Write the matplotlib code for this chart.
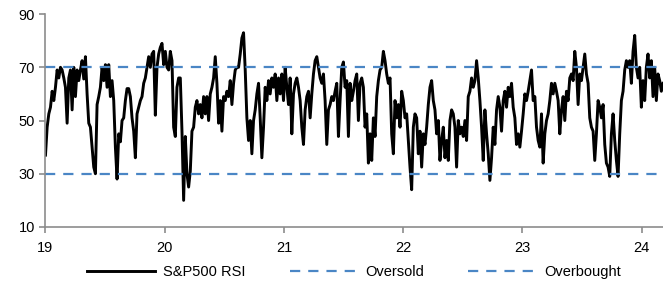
import numpy as np
import matplotlib
matplotlib.use("Agg")
import matplotlib.pyplot as plt

plt.rcParams['font.family'] = ['Liberation Sans', 'DejaVu Sans']

# S&P500 RSI, roughly every 5 days, Jan 2019 .. early Mar 2024
rsi_2019 = [37, 47.5, 52.5, 55, 61, 57.5, 62.5, 69, 66, 70, 69, 66, 62.5, 49, 66, 69, 54, 70, 59, 69,
            65, 69, 72.5, 65.6, 74, 60, 49, 47.5, 40, 32.5, 30, 56, 59, 62.5, 70, 65, 71, 62.5, 71, 59,
            65, 57.5, 40, 28, 45, 42, 50, 51, 57.5, 62, 62, 59, 51, 46, 36, 52.5, 55, 57.5, 59, 64,
            66, 70, 74, 70, 75, 76, 52, 70, 75, 77.5, 79, 71, 76, 70, 69, 76, 72.5, 47.5, 44, 62.5,
            66, 66, 46, 20, 44, 30, 25]
rsi_2020 = [31, 46, 47.5, 55, 57.5, 52.5, 56, 51, 59, 52.5, 59, 50, 60, 62.5, 66, 74, 64, 49, 57.5, 46,
            59, 57.5, 61, 59, 65, 56, 64, 69, 70, 70, 75, 81, 83, 69, 51, 42.5, 50, 37.5, 50, 54,
            60, 64, 51, 36, 47.5, 62.5, 57.5, 65, 60, 66, 62.5, 67.5, 57.5, 66, 60, 67.5, 57.5, 70, 62.5, 56,
            66, 45, 60, 64, 66, 62.5, 57.5, 47.5, 41, 54, 59, 61, 51, 60, 67.5, 72.5, 74, 70, 66, 64,
            67.5, 57.5, 41, 54, 56, 59, 57.5, 61, 64, 44]
rsi_2021 = [57.5, 70, 72, 62.5, 65, 44, 64, 57.5, 61, 65, 67.5, 50, 64, 66, 62.5, 47.5, 52.5, 34, 45, 35,
            51, 44, 59, 65, 69, 70, 76, 72.5, 67.5, 64, 66, 45, 37.5, 57.5, 51, 56, 47.5, 61, 57.5, 51,
            52.5, 42.5, 32.5, 24, 47.5, 52.5, 51, 37.5, 46, 32.5, 45, 41, 47.5, 56, 62.5, 65, 57.5, 54, 45, 50,
            35, 42.5, 47.5, 36, 42.5, 35, 50, 54, 52.5, 47.5, 32.5, 50, 45, 47.5, 44, 50, 42.5, 59, 61, 66,
            62.5, 65, 72.5, 66, 57.5, 47.5, 35, 54, 45, 37.5]
rsi_2023 = [27.5, 36, 47.5, 41, 54, 59, 55, 46, 57.5, 61, 55, 62.5, 59, 64, 55, 51, 41, 45, 40, 46,
            52.5, 60, 57.5, 61, 65, 69, 57.5, 59, 47.5, 42.5, 40, 52.5, 34, 45, 50, 52.5, 57.5, 64, 60, 64,
            61, 57.5, 45, 54, 59, 50, 61, 57.5, 66, 67.5, 65, 76, 70, 56, 67.5, 65, 70, 75, 67.5, 64,
            51, 47.5, 46, 35, 45, 57.5, 55, 51, 56, 41, 34, 32.5, 29, 45, 52.5, 42.5, 35, 29, 45, 57.5,
            61, 69, 72.5, 70, 72.5, 64, 76, 82, 70, 66, 70, 55, 65, 57.5, 70, 75, 66, 72.5, 59, 70,
            57.5, 67.5, 65, 61, 64]
rsi = rsi_2019 + rsi_2020 + rsi_2021 + rsi_2023

start_year, end_year = 19, 24.18
oversold = 30
overbought = 70
year_ticks = [19, 20, 21, 22, 23, 24]
y_ticks = [10, 30, 50, 70, 90]

dates = np.linspace(start_year, end_year, len(rsi))

blue = '#4a86c5'
grey = '#8c8c8c'

fig = plt.figure(figsize=(6.63, 2.88), dpi=100)
ax = fig.add_axes([0.0686, 0.212, 0.9314, 0.739])

ax.plot(dates, rsi, color='black', lw=2.1, label='S&P500 RSI')
ax.plot([start_year, end_year], [oversold, oversold], color=blue, lw=1.6,
        dashes=(4.6, 3.6), label='Oversold')
ax.plot([start_year, end_year], [overbought, overbought], color=blue, lw=1.6,
        dashes=(4.6, 3.6), label='Overbought')

ax.set_xlim(start_year, end_year)
ax.set_ylim(10, 90)
ax.set_xticks(year_ticks)
ax.set_xticklabels([str(y) for y in year_ticks])
ax.set_yticks(y_ticks)

for s in ['top', 'right']:
    ax.spines[s].set_visible(False)
for s in ['left', 'bottom']:
    ax.spines[s].set_color(grey)
    ax.spines[s].set_linewidth(1.2)
ax.tick_params(axis='both', colors=grey, labelcolor='black', labelsize=10.5, length=4, width=1.2)
ax.tick_params(axis='x', pad=6)

fig.legend(loc='center', bbox_to_anchor=(0.534, 0.056), ncol=3, frameon=False,
           fontsize=10.5, handlelength=4.6, columnspacing=3.0, handletextpad=0.6)

fig.savefig('out.png', dpi=100)
